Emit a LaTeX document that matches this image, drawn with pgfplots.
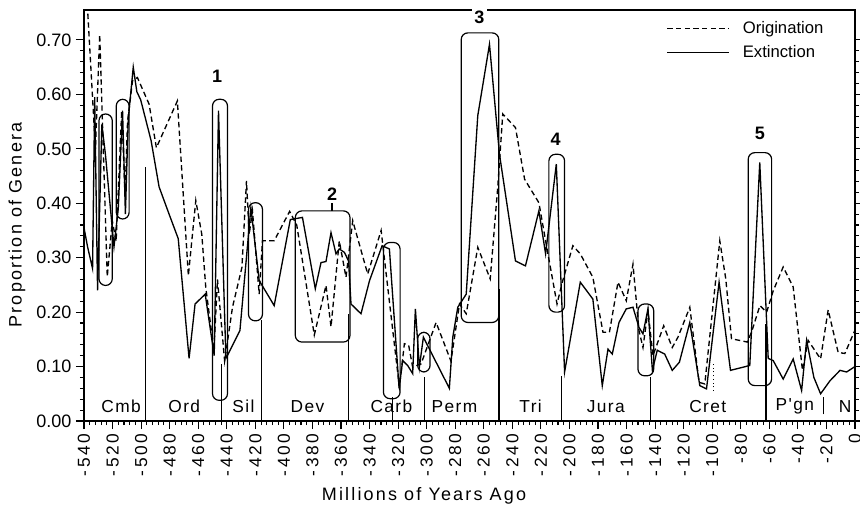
\documentclass[border=0pt]{standalone}
\usepackage{fontspec}
\setmainfont{Liberation Sans}
\newfontfamily\spacedA[LetterSpace=15]{Liberation Sans}
\newfontfamily\spacedB[LetterSpace=12]{Liberation Sans}
\newfontfamily\spacedC[LetterSpace=8]{Liberation Sans}
\usepackage{pgfplots}
\pgfplotsset{compat=1.18}

\pgfplotstableread{
x y
-538 0.78
-532 0.50
-529 0.71
-523.7 0.265
-520.2 0.368
-517.5 0.33
-513.6 0.57
-511.2 0.417
-509.5 0.55
-506 0.625
-502.6 0.631
-494.4 0.582
-489.3 0.502
-474.6 0.588
-466.9 0.267
-461.7 0.405
-457.5 0.343
-454.7 0.245
-449 0.13
-446.5 0.26
-441.5 0.11
-436 0.209
-429.4 0.282
-426.2 0.441
-424.3 0.343
-422 0.386
-417.3 0.233
-415 0.331
-406.8 0.331
-396 0.385
-391 0.36
-378.7 0.158
-370.5 0.249
-367 0.173
-361.2 0.331
-356.5 0.264
-351.8 0.368
-341.3 0.27
-331.9 0.35
-319.1 0.062
-315.6 0.142
-312.6 0.139
-309.8 0.099
-303.9 0.105
-293.4 0.181
-283 0.11
-277 0.215
-272.3 0.197
-264.2 0.319
-255.5 0.261
-250.2 0.43
-246.7 0.564
-237.8 0.539
-231.4 0.444
-221.4 0.401
-216.3 0.325
-208.7 0.215
-205 0.255
-197.6 0.322
-192.4 0.307
-183.6 0.264
-176.5 0.163
-172 0.163
-166 0.255
-160.2 0.221
-155.5 0.288
-151.3 0.166
-148.5 0.135
-145 0.203
-141.5 0.12
-134 0.175
-128 0.135
-124 0.154
-115.7 0.209
-109.2 0.071
-105.2 0.068
-94.7 0.331
-90.5 0.261
-86.5 0.151
-80.7 0.148
-75.5 0.145
-72.5 0.163
-66.6 0.212
-61.9 0.200
-57.3 0.239
-50.3 0.283
-43.3 0.246
-36.8 0.093
-32.8 0.148
-24.1 0.114
-18.8 0.204
-11.8 0.126
-7.1 0.124
0 0.167
}\orig

\pgfplotstableread{
x y
-540 0.355
-537.5 0.32
-534 0.28
-532.5 0.595
-530.5 0.24
-527.5 0.545
-525 0.49
-519 0.32
-516 0.39
-513 0.57
-511 0.38
-509 0.555
-505.5 0.65
-503 0.605
-500.3 0.59
-493 0.515
-487.4 0.43
-480.4 0.38
-474 0.335
-466.4 0.115
-462.2 0.215
-455.1 0.233
-448.8 0.12
-445.8 0.57
-440.6 0.115
-430.8 0.166
-423.1 0.392
-417.3 0.258
-406.8 0.212
-395.5 0.37
-387 0.374
-378 0.243
-374 0.291
-370.5 0.293
-367 0.346
-363.5 0.307
-361.2 0.316
-357.7 0.31
-354.7 0.294
-353 0.215
-346 0.197
-340 0.258
-331.2 0.322
-326.1 0.316
-319.3 0.06
-316.8 0.111
-313.3 0.102
-309.8 0.087
-307.9 0.206
-305.1 0.099
-302.3 0.154
-284.1 0.06
-281.7 0.154
-278.2 0.209
-272.3 0.233
-264.2 0.561
-256 0.692
-249 0.49
-237.8 0.294
-230.8 0.285
-221.4 0.386
-216.7 0.307
-209.2 0.472
-203.4 0.09
-192.4 0.255
-183.6 0.224
-177 0.065
-173 0.132
-170 0.123
-165.3 0.181
-160.2 0.206
-155.5 0.209
-151.3 0.172
-148.5 0.16
-145 0.206
-141.9 0.093
-138.5 0.13
-133.3 0.123
-128 0.093
-123 0.108
-115.7 0.181
-108.7 0.065
-104 0.059
-95.2 0.255
-87.2 0.093
-73.7 0.102
-66.7 0.475
-60.8 0.115
-57.3 0.111
-50.3 0.077
-43.3 0.114
-37.4 0.056
-33.9 0.148
-28.8 0.08
-24.1 0.05
-17.5 0.074
-10.5 0.093
-5.9 0.09
0 0.1
}\ext

\begin{document}
\begin{tikzpicture}
\useasboundingbox (-63pt,-65.25pt) rectangle (582pt,315.75pt);
\begin{axis}[
  at={(0,0)}, anchor=south west,
  scale only axis, width=578.25pt, height=308.25pt,
  xmin=-540, xmax=0, ymin=0, ymax=0.755,
  clip mode=individual,
  axis line style={line width=0.9pt},
  tick align=outside,
  xtick pos=bottom, ytick pos=both,
  xtick={-540,-520,...,0},
  xticklabels={-540,-520,-500,-480,-460,-440,-420,-400,-380,-360,-340,-320,-300,-280,-260,-240,-220,-200,-180,-160,-140,-120,-100,-80,-60,-40,-20,0},
  minor x tick num=4,
  ytick={0,0.1,0.2,0.3,0.4,0.5,0.6,0.7},
  minor y tick num=4,
  major tick length=6pt, minor tick length=3pt,
  every tick/.style={black, line width=0.8pt},
  /pgf/number format/assume math mode=true,
  yticklabel style={/pgf/number format/.cd, fixed, fixed zerofill, precision=2, /tikz/.cd, font=\fontsize{13.5}{14}\selectfont},
  xticklabel style={rotate=90, anchor=east, font=\spacedA\fontsize{13}{13}\selectfont},
  xlabel={Millions of Years Ago},
  xlabel style={at={(axis description cs:0.441,-0.182)}, anchor=center, font=\spacedB\fontsize{13.5}{14}\selectfont},
  ylabel={Proportion of Genera},
  ylabel style={at={(axis description cs:-0.087,0.477)}, anchor=center, font=\spacedB\fontsize{13.5}{14}\selectfont},
  legend style={draw=none, fill=none, at={(axis description cs:0.968,0.985)}, anchor=north east,
    font=\fontsize{12.5}{13}\selectfont, row sep=3pt,
    /tikz/every odd column/.append style={column sep=8pt}},
  legend cell align=left,
  legend image code/.code={\draw[#1] (0pt,0pt) -- (46pt,0pt);},
]
\addplot[black, line width=1pt, dash pattern=on 4pt off 2.5pt] table[x=x,y=y] {\orig};
\addlegendentry{Origination}
\addplot[black, line width=1pt] table[x=x,y=y] {\ext};
\addlegendentry{Extinction}

% period boundaries
\draw[line width=0.8pt] (axis cs:-497,0) -- (axis cs:-497,0.467);
\draw[line width=0.8pt] (axis cs:-443.4,0) -- (axis cs:-443.4,0.105);
\draw[line width=0.8pt] (axis cs:-416,0) -- (axis cs:-416,0.185);
\draw[line width=0.8pt] (axis cs:-354.9,0) -- (axis cs:-354.9,0.197);
\draw[line width=0.8pt] (axis cs:-323.8,0) -- (axis cs:-323.8,0.044);
\draw[line width=0.8pt] (axis cs:-301.6,0) -- (axis cs:-301.6,0.08);
\draw[line width=1.6pt] (axis cs:-249.5,0) -- (axis cs:-249.5,0.243);
\draw[line width=0.8pt] (axis cs:-205.7,0) -- (axis cs:-205.7,0.083);
\draw[line width=0.8pt] (axis cs:-143,0) -- (axis cs:-143,0.08);
\draw[line width=1.6pt] (axis cs:-62.4,0) -- (axis cs:-62.4,0.179);
\draw[line width=0.8pt] (axis cs:-22.2,0.012) -- (axis cs:-22.2,0.045);
\draw[line width=0.8pt, dotted] (axis cs:-99,0.055) -- (axis cs:-99,0.105);

% period labels
\begin{scope}[every node/.style={font=\spacedC\fontsize{13}{13}\selectfont, anchor=center}]
\node at (axis cs:-514,0.027) {Cmb};
\node at (axis cs:-469.8,0.027) {Ord};
\node at (axis cs:-428.4,0.027) {Sil};
\node at (axis cs:-383.5,0.027) {Dev};
\node at (axis cs:-324.7,0.027) {Carb};
\node at (axis cs:-280.5,0.027) {Perm};
\node at (axis cs:-227.2,0.027) {Tri};
\node at (axis cs:-174.6,0.027) {Jura};
\node at (axis cs:-103.1,0.027) {Cret};
\node at (axis cs:-42.1,0.027) {P'gn};
\node at (axis cs:-7,0.027) {N};
\end{scope}

% rounded boxes
\begin{scope}[line width=0.9pt, rounded corners=5pt]
\draw (axis cs:-529.5,0.249) rectangle (axis cs:-520.2,0.564);
\draw (axis cs:-517.4,0.371) rectangle (axis cs:-508.4,0.591);
\draw (axis cs:-450,0.038) rectangle (axis cs:-439.5,0.591);
\draw (axis cs:-424.8,0.184) rectangle (axis cs:-415,0.401);
\draw (axis cs:-392,0.145) rectangle (axis cs:-353.7,0.386);
\draw (axis cs:-330.3,0.041) rectangle (axis cs:-318.6,0.328);
\draw (axis cs:-306.3,0.09) rectangle (axis cs:-297.6,0.163);
\draw (axis cs:-275.8,0.181) rectangle (axis cs:-249.5,0.713);
\draw (axis cs:-214.4,0.200) rectangle (axis cs:-203.4,0.490);
\draw (axis cs:-152,0.083) rectangle (axis cs:-141,0.215);
\draw (axis cs:-74.8,0.065) rectangle (axis cs:-58.4,0.493);
\end{scope}
\draw[line width=0.8pt] (axis cs:-366.3,0.386) -- (axis cs:-366.3,0.400);

% event numbers
\begin{scope}[every node/.style={font=\bfseries\fontsize{13.5}{14}\selectfont, anchor=center}]
\node at (axis cs:-446.7,0.634) {1};
\node at (axis cs:-366.3,0.417) {2};
\node[fill=white, inner sep=1.5pt] at (axis cs:-263,0.742) {3};
\node at (axis cs:-209.7,0.518) {4};
\node at (axis cs:-66.7,0.528) {5};
\end{scope}
\end{axis}
\end{tikzpicture}
\end{document}
